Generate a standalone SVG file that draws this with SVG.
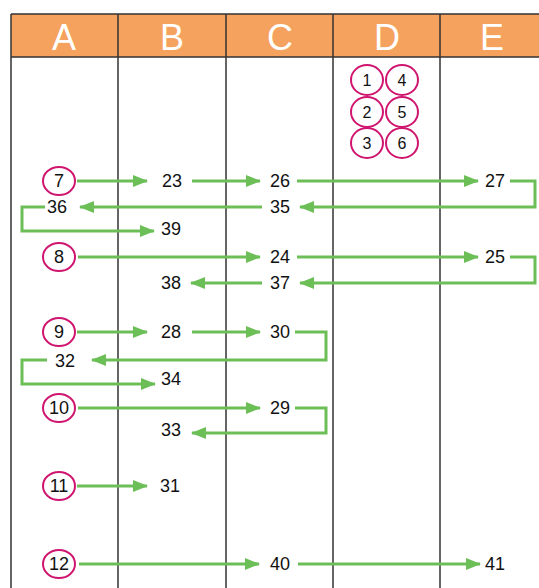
<svg xmlns="http://www.w3.org/2000/svg" width="539" height="588" viewBox="0 0 539 588">
<style>
.grid{stroke:#333;stroke-width:1.5;fill:none}
.hd{font-family:"Liberation Sans",Arial,sans-serif;font-size:36px;fill:#fff;text-anchor:middle}
.num{font-family:"Liberation Sans",Arial,sans-serif;font-size:18px;fill:#111;text-anchor:middle}
.cn{font-family:"Liberation Sans",Arial,sans-serif;font-size:16px;fill:#111;text-anchor:middle}
.circ{fill:#fff;stroke:#D0156F;stroke-width:2}
.con{stroke:#6CBE57;stroke-width:3;fill:none;marker-end:url(#ah)}
</style>
<defs>
<marker id="ah" markerUnits="userSpaceOnUse" markerWidth="15" markerHeight="12" refX="14" refY="6" orient="auto">
<path d="M0,0 L15,6 L0,12 z" fill="#6CBE57"/>
</marker>
</defs>
<rect x="0" y="0" width="539" height="588" fill="#fff"/>
<g id="table">
<rect x="11" y="14" width="540" height="43" fill="#F5A25E"/>
<path class="grid" d="M11,14 H539 M11,57 H539 M11,14 V588 M118,14 V588 M226,14 V588 M333,14 V588 M440,14 V588"/>
<text class="hd" x="64" y="50">A</text>
<text class="hd" x="172" y="50">B</text>
<text class="hd" x="280" y="50">C</text>
<text class="hd" x="387" y="50">D</text>
<text class="hd" x="492" y="50">E</text>
</g>
<g id="legend">
<ellipse class="circ" cx="367" cy="80" rx="16" ry="15"/><text class="cn" x="367" y="86">1</text>
<ellipse class="circ" cx="402" cy="80" rx="16" ry="15"/><text class="cn" x="402" y="86">4</text>
<ellipse class="circ" cx="367" cy="112" rx="16" ry="15"/><text class="cn" x="367" y="118">2</text>
<ellipse class="circ" cx="402" cy="112" rx="16" ry="15"/><text class="cn" x="402" y="118">5</text>
<ellipse class="circ" cx="367" cy="143" rx="16" ry="15"/><text class="cn" x="367" y="149">3</text>
<ellipse class="circ" cx="402" cy="143" rx="16" ry="15"/><text class="cn" x="402" y="149">6</text>
</g>
<g id="connectors">
<path class="con" d="M77,181 H147"/>
<path class="con" d="M192,181 H260"/>
<path class="con" d="M297,181 H478"/>
<path class="con" d="M510,181 H535 V207 H300"/>
<path class="con" d="M262,207 H80"/>
<path class="con" d="M45,207 H22 V231 H154"/>
<path class="con" d="M78,257 H260"/>
<path class="con" d="M297,257 H478"/>
<path class="con" d="M510,257 H535 V283 H300"/>
<path class="con" d="M262,283 H191"/>
<path class="con" d="M77,332 H147"/>
<path class="con" d="M192,332 H260"/>
<path class="con" d="M295,332 H326 V360 H92"/>
<path class="con" d="M47,360 H22 V384 H155"/>
<path class="con" d="M78,408 H260"/>
<path class="con" d="M295,408 H326 V433 H192"/>
<path class="con" d="M77,486 H147"/>
<path class="con" d="M79,564 H259"/>
<path class="con" d="M298,564 H480"/>
</g>
<g id="n7"><ellipse class="circ" cx="59" cy="181" rx="16" ry="14"/><text class="num" x="59" y="187">7</text></g>
<g id="n8"><ellipse class="circ" cx="59" cy="257" rx="16" ry="14"/><text class="num" x="59" y="263">8</text></g>
<g id="n9"><ellipse class="circ" cx="59" cy="332" rx="16" ry="14"/><text class="num" x="59" y="338">9</text></g>
<g id="n10"><ellipse class="circ" cx="59" cy="408" rx="16" ry="14"/><text class="num" x="59" y="414">10</text></g>
<g id="n11"><ellipse class="circ" cx="59" cy="486" rx="16" ry="14"/><text class="num" x="59" y="492">11</text></g>
<g id="n12"><ellipse class="circ" cx="59" cy="564" rx="16" ry="14"/><text class="num" x="59" y="570">12</text></g>
<g id="n23"><text class="num" x="172" y="187">23</text></g>
<g id="n26"><text class="num" x="280" y="187">26</text></g>
<g id="n27"><text class="num" x="495" y="187">27</text></g>
<g id="n36"><text class="num" x="57" y="213">36</text></g>
<g id="n35"><text class="num" x="280" y="213">35</text></g>
<g id="n39"><text class="num" x="171" y="235">39</text></g>
<g id="n24"><text class="num" x="280" y="263">24</text></g>
<g id="n25"><text class="num" x="495" y="263">25</text></g>
<g id="n38"><text class="num" x="171" y="289">38</text></g>
<g id="n37"><text class="num" x="280" y="289">37</text></g>
<g id="n28"><text class="num" x="171" y="338">28</text></g>
<g id="n30"><text class="num" x="280" y="338">30</text></g>
<g id="n32"><text class="num" x="65" y="367">32</text></g>
<g id="n34"><text class="num" x="171" y="385">34</text></g>
<g id="n29"><text class="num" x="280" y="414">29</text></g>
<g id="n33"><text class="num" x="171" y="436">33</text></g>
<g id="n31"><text class="num" x="170" y="492">31</text></g>
<g id="n40"><text class="num" x="280" y="570">40</text></g>
<g id="n41"><text class="num" x="495" y="570">41</text></g>
</svg>
